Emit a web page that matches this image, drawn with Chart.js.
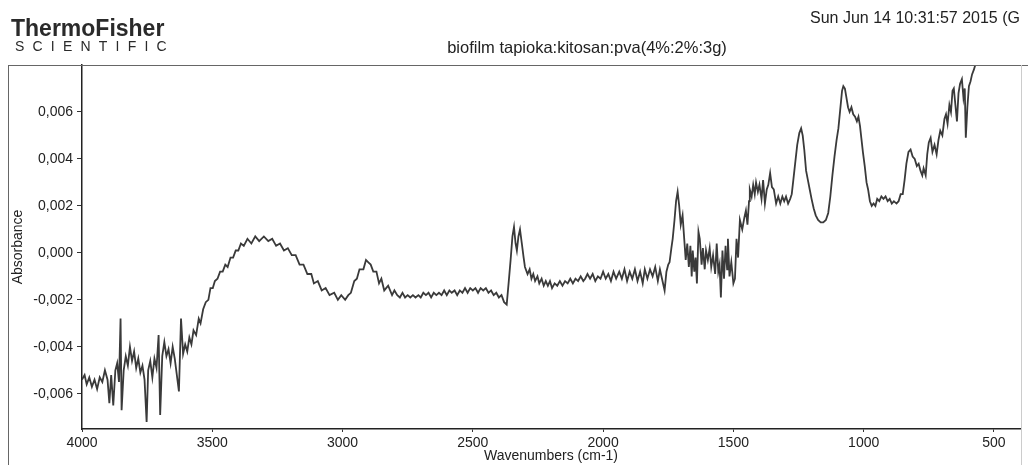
<!DOCTYPE html>
<html><head><meta charset="utf-8">
<script src="https://cdn.jsdelivr.net/npm/chart.js@4"></script>
<style>html,body{margin:0;padding:0;background:#fff;overflow:hidden}</style>
</head><body>
<canvas id="c" width="1028" height="465"></canvas>
<script>
const wavenumbers = [
4000,3990,3982,3972,3962,3952,3942,3932,3922,3912,3902,3895,3888,3880,3872,3865,3858,3852,3848,3840,
3832,3824,3816,3808,3800,3792,3784,3776,3768,3760,3752,3746,3738,3730,3722,3714,3706,3700,3692,3684,
3676,3668,3660,3652,3644,3628,3620,3612,3604,3596,3588,3580,3572,3562,3552,3545,
3535,3525,3515,3507,3498,3490,3480,3470,3460,3450,3441,3430,3420,3410,3400,3390,3379,3365,3350,3335,
3320,3302,3285,3270,3255,3240,3225,3210,3195,3180,3165,3150,3135,3120,3110,3095,3080,3065,3050,3032,
3018,3005,2990,2978,2968,2955,2945,2935,2920,2910,2901,2892,2882,2870,2860,2851,2840,2825,2810,2801,
2790,2780,2770,2760,2750,2740,2730,2720,2709,2700,2690,2680,2670,2660,2650,2640,2630,2620,2610,2600,
2590,2581,2570,2560,2550,2540,2530,2520,2510,2500,2490,2480,2470,2460,2450,2440,2430,2420,2410,2400,
2390,2380,2370,2362,2355,2348,2342,2336,2331,2325,2319,2312,2305,2300,2290,2282,2275,2268,2261,2252,
2245,2236,2228,2220,2212,2204,2196,2186,2176,2166,2156,2146,2136,2126,2116,2106,2096,2086,2076,2069,
2060,2050,2040,2030,2020,2010,2000,1990,1980,1970,1960,1950,1938,1928,1918,1908,1898,1888,1878,1868,
1858,1848,1840,1830,1820,1810,1800,1790,1782,1774,1764,1757,1750,1745,1738,1733,1726,1720,1714,1708,
1702,1695,1690,1683,1677,1671,1665,1660,1656,1650,1645,1640,1634,1629,1622,1617,1610,1605,1598,1591,
1585,1578,1570,1564,1558,1553,1548,1542,1536,1530,1524,1521,1515,1508,1500,1494,1488,1482,1475,1466,
1458,1452,1446,1440,1437,1430,1424,1418,1413,1406,1400,1392,1386,1379,1372,1366,1359,1352,1345,1336,
1328,1320,1312,1305,1298,1290,1282,1276,1270,1263,1255,1247,1240,1234,1228,1221,1214,1207,1200,1192,
1184,1175,1165,1155,1145,1136,1128,1120,1112,1104,1097,1090,1083,1078,1072,1066,1060,1054,1047,1040,
1033,1026,1020,1014,1009,1003,996,989,983,976,969,962,955,948,940,932,924,916,908,900,
892,884,874,866,858,850,843,836,828,820,812,804,796,789,782,775,770,762,756,750,
743,736,728,720,713,706,698,690,684,678,671,665,659,654,648,642,636,630,623,617,
612,608,602,596,590,584,577,569,560,550
];
const absorbance = [
-0.0054,-0.0052,-0.0056,-0.0053,-0.0057,-0.0054,-0.0058,-0.0053,-0.0055,-0.0050,-0.0054,-0.0064,-0.0052,-0.0065,-0.0050,-0.0047,-0.0055,-0.0028,-0.0067,-0.0050,
-0.0044,-0.0048,-0.0040,-0.0046,-0.0042,-0.0049,-0.0045,-0.0051,-0.0048,-0.0054,-0.0072,-0.0050,-0.0046,-0.0053,-0.0045,-0.0049,-0.0035,-0.0069,-0.0044,-0.0038,
-0.0044,-0.0041,-0.0047,-0.0040,-0.0045,-0.0059,-0.0028,-0.0043,-0.0039,-0.0042,-0.0036,-0.0039,-0.0033,-0.0035,-0.0028,-0.0030,
-0.0024,-0.0021,-0.0020,-0.0015,-0.0015,-0.0012,-0.0011,-0.0008,-0.0008,-0.0005,-0.0006,-0.0002,-0.0002,0.0001,0.0001,0.0004,0.0003,0.0006,0.0004,0.0007,
0.0005,0.0007,0.0005,0.0006,0.0003,0.0004,0.0001,0.0002,-0.0001,-0.0001,-0.0005,-0.0005,-0.0009,-0.0009,-0.0013,-0.0012,-0.0016,-0.0015,-0.0018,-0.0017,
-0.0020,-0.0018,-0.0020,-0.0018,-0.0017,-0.0012,-0.0011,-0.0007,-0.0007,-0.0003,-0.0004,-0.0005,-0.0008,-0.0008,-0.0013,-0.0011,-0.0016,-0.0014,-0.0018,-0.0016,
-0.0018,-0.0019,-0.0017,-0.0019,-0.0018,-0.0019,-0.0018,-0.0019,-0.0018,-0.0019,-0.0017,-0.0018,-0.0017,-0.0019,-0.0017,-0.0018,-0.0017,-0.0018,-0.0016,-0.0018,
-0.0016,-0.0017,-0.0016,-0.0018,-0.0016,-0.0017,-0.0015,-0.0017,-0.0015,-0.0016,-0.0015,-0.0017,-0.0015,-0.0016,-0.0015,-0.0017,-0.0016,-0.0018,-0.0017,-0.0019,
-0.0018,-0.0021,-0.0022,-0.0012,-0.0003,0.0007,0.0011,0.0004,0.0001,0.0007,0.0010,0.0004,-0.0002,-0.0006,-0.0009,-0.0007,-0.0011,-0.0009,-0.0012,-0.0010,
-0.0013,-0.0011,-0.0014,-0.0012,-0.0014,-0.0012,-0.0015,-0.0013,-0.0014,-0.0012,-0.0014,-0.0012,-0.0013,-0.0011,-0.0013,-0.0011,-0.0012,-0.0010,-0.0012,-0.0011,
-0.0009,-0.0011,-0.0009,-0.0012,-0.0010,-0.0011,-0.0008,-0.0011,-0.0009,-0.0012,-0.0008,-0.0011,-0.0008,-0.0011,-0.0007,-0.0012,-0.0008,-0.0011,-0.0007,-0.0012,
-0.0008,-0.0013,-0.0007,-0.0011,-0.0007,-0.0010,-0.0006,-0.0012,-0.0007,-0.0011,-0.0016,-0.0008,-0.0005,-0.0004,0.0002,0.0006,0.0014,0.0022,0.0026,0.0020,
0.0012,0.0016,0.0008,-0.0003,0.0004,-0.0006,0.0003,-0.0010,0.0001,-0.0008,-0.0002,-0.0013,0.0009,0.0006,-0.0005,0.0002,-0.0007,0.0001,-0.0003,0.0002,
-0.0006,-0.0001,-0.0009,0.0004,-0.0008,-0.0005,-0.0019,0.0001,-0.0011,0.0003,-0.0007,0.0006,-0.0010,-0.0004,-0.0013,-0.0011,0.0006,-0.0002,0.0014,0.0010,
0.0015,0.0018,0.0012,0.0022,0.0027,0.0024,0.0029,0.0025,0.0030,0.0026,0.0029,0.0023,0.0031,0.0021,0.0027,0.0029,0.0034,0.0028,0.0027,0.0021,
0.0024,0.0021,0.0024,0.0022,0.0024,0.0021,0.0023,0.0025,0.0031,0.0038,0.0046,0.0051,0.0053,0.0050,0.0044,0.0035,0.0031,0.0027,0.0023,0.0019,
0.0016,0.0014,0.0013,0.0013,0.0014,0.0017,0.0024,0.0033,0.0041,0.0048,0.0053,0.0061,0.0069,0.0071,0.0070,0.0066,0.0062,0.0060,0.0062,0.0059,
0.0058,0.0056,0.0058,0.0054,0.0049,0.0043,0.0037,0.0030,0.0027,0.0022,0.0020,0.0021,0.0020,0.0023,0.0022,0.0024,0.0023,0.0024,0.0022,0.0023,
0.0021,0.0022,0.0021,0.0022,0.0025,0.0025,0.0031,0.0038,0.0043,0.0044,0.0041,0.0040,0.0037,0.0038,0.0035,0.0033,0.0036,0.0033,0.0042,0.0047,
0.0049,0.0043,0.0046,0.0042,0.0048,0.0052,0.0050,0.0057,0.0059,0.0055,0.0063,0.0060,0.0069,0.0070,0.0063,0.0056,0.0068,0.0072,0.0074,0.0066,
0.0070,0.0049,0.0062,0.0071,0.0073,0.0076,0.0078,0.0081,0.0090,0.0100
];
const xTicks = [4000,3500,3000,2500,2000,1500,1000,500];
const yTicks = [-0.006,-0.004,-0.002,0,0.002,0.004,0.006];
const chartTitle = 'biofilm tapioka:kitosan:pva(4%:2%:3g)';
const dateText = 'Sun Jun 14 10:31:57 2015 (G';
const xTitle = 'Wavenumbers (cm-1)';
const yTitle = 'Absorbance';

const FONT = "'Liberation Sans', Arial, sans-serif";

const header = {
  id: 'header',
  afterDraw(chart) {
    const ctx = chart.ctx;
    const a = chart.chartArea;
    ctx.save();
    ctx.strokeStyle = '#666';
    ctx.lineWidth = 1;
    ctx.beginPath();
    ctx.moveTo(8, a.top + 0.5); ctx.lineTo(1028, a.top + 0.5);
    ctx.moveTo(8.5, a.top); ctx.lineTo(8.5, 465);
    ctx.stroke();
    ctx.strokeStyle = '#ccc';
    ctx.beginPath();
    ctx.moveTo(a.right + 1.5, a.top); ctx.lineTo(a.right + 1.5, 465);
    ctx.stroke();
    ctx.fillStyle = '#2a2a2a';
    ctx.textBaseline = 'alphabetic';
    ctx.textAlign = 'left';
    ctx.font = "bold 23px " + FONT;
    ctx.fillText('ThermoFisher', 11, 36);
    ctx.font = "14px " + FONT;
    const sci = 'SCIENTIFIC';
    let sx = 15;
    for (let i = 0; i < sci.length; i++) {
      ctx.fillText(sci[i], sx, 51);
      sx += ctx.measureText(sci[i]).width + 8.2;
    }
    ctx.fillStyle = '#222';
    ctx.font = "16.5px " + FONT;
    ctx.textAlign = 'center';
    ctx.fillText(chartTitle, 587, 53);
    ctx.textAlign = 'left';
    ctx.font = "16px " + FONT;
    ctx.fillText(dateText, 810, 23);
    ctx.restore();
  }
};

new Chart(document.getElementById('c'), {
  type: 'line',
  data: {
    datasets: [{
      data: wavenumbers.map((w, i) => ({x: w, y: absorbance[i]})),
      borderColor: '#3a3a3a',
      borderWidth: 1.8,
      pointRadius: 0,
      tension: 0,
      fill: false
    }]
  },
  options: {
    responsive: false,
    animation: false,
    devicePixelRatio: 1,
    layout: {padding: {left: 0, right: 8, top: 65, bottom: 0}},
    plugins: {legend: {display: false}, tooltip: {enabled: false}, title: {display: false}},
    scales: {
      x: {
        type: 'linear',
        reverse: true,
        min: 400,
        max: 4000,
        afterBuildTicks: s => { s.ticks = xTicks.map(v => ({value: v})); },
        afterFit: s => { s.height = 36; },
        ticks: {font: {family: FONT, size: 14}, color: '#222', padding: 3, maxRotation: 0, autoSkip: false,
          callback: v => String(v)},
        grid: {display: true, drawOnChartArea: false, drawTicks: true, tickLength: 3, color: '#333'},
        border: {display: true, color: '#222', width: 1.5},
        title: {display: true, text: xTitle, font: {family: FONT, size: 14}, color: '#222', padding: {top: 0, bottom: 0}}
      },
      y: {
        type: 'linear',
        min: -0.0075,
        max: 0.008,
        afterBuildTicks: s => { s.ticks = yTicks.map(v => ({value: v})); },
        afterFit: s => { s.width = 82; },
        ticks: {font: {family: FONT, size: 14}, color: '#222', padding: 4,
          callback: v => v.toFixed(3).replace('.', ',')},
        grid: {display: true, drawOnChartArea: false, drawTicks: true, tickLength: 5, color: '#333'},
        border: {display: true, color: '#222', width: 1.5},
        title: {display: true, text: yTitle, font: {family: FONT, size: 14}, color: '#222', padding: {top: 10, bottom: 0}}
      }
    }
  },
  plugins: [header]
});
</script>
</body></html>
